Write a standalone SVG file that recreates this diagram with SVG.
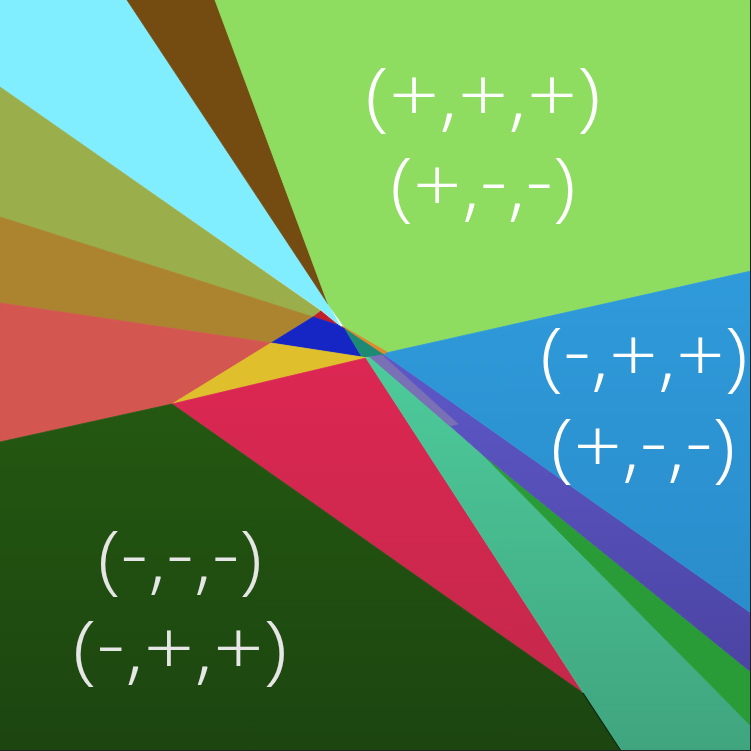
<svg xmlns="http://www.w3.org/2000/svg" width="751" height="751" viewBox="0 0 751 751">
<defs>
<style>
.lbl{font-family:"Open Sans","Liberation Sans",sans-serif;font-weight:300;font-size:76px;text-anchor:middle;fill:#ffffff}
.lbl2{fill:#e6e6e6}
polygon{stroke-width:0.8;stroke-linejoin:round}
</style>
<linearGradient id="gDark" x1="0" y1="0" x2="0" y2="1"><stop offset="0" stop-color="#245811"/><stop offset="1" stop-color="#1c4510"/></linearGradient>
<linearGradient id="gCrim" x1="0" y1="0" x2="0" y2="1"><stop offset="0" stop-color="#dc2753"/><stop offset="1" stop-color="#c5284a"/></linearGradient>
<linearGradient id="gTeal" x1="0" y1="0" x2="0" y2="1"><stop offset="0" stop-color="#4dcb9b"/><stop offset="1" stop-color="#40a57f"/></linearGradient>
<linearGradient id="gPurp" x1="0" y1="0" x2="0" y2="1"><stop offset="0" stop-color="#5e58c8"/><stop offset="1" stop-color="#4b44a3"/></linearGradient>
<linearGradient id="gBlue" x1="0" y1="0" x2="0" y2="1"><stop offset="0" stop-color="#2f9ada"/><stop offset="1" stop-color="#2a8dcb"/></linearGradient>
</defs>
<g id="regions">
<polygon id="cyan" fill="#80eeff" stroke="#80eeff" points="0,0 127,0 328,304 340,326 324,312 0,87"/>
<polygon id="brown" fill="#744c12" stroke="#744c12" points="127,0 215,0 328,304"/>
<polygon id="lightgreen" fill="#8edd61" stroke="#8edd61" points="215,0 751,0 751,271 386,353 345,328 328,304"/>
<polygon id="orange" fill="#e08a30" stroke="#e08a30" stroke-width="0.3" points="342,326 387,352 385,356 343,330"/>
<polygon id="olive" fill="#9aaf4b" stroke="#9aaf4b" points="0,87 321,311 313,317 0,217"/>
<polygon id="ochre" fill="#ac8430" stroke="#ac8430" points="0,217 313,317 271,343 0,303"/>
<polygon id="redsmall" fill="#c0202e" stroke="#c0202e" points="313,317 321,311 338,325"/>
<polygon id="bluecenter" fill="#1626c5" stroke="#1626c5" points="271,343 313,317 338,325 345,329 362,357"/>
<polygon id="darkteal" fill="#1d8b73" stroke="#1d8b73" points="345,329 384,355 372,357 362,357"/>
<polygon id="salmon" fill="#d35750" stroke="#d35750" points="0,303 271,343 172,404 0,442"/>
<polygon id="yellow" fill="#dfbf2b" stroke="#dfbf2b" points="271,343 362,357 366,358 172,404"/>
<polygon id="crimson" fill="url(#gCrim)" stroke="url(#gCrim)" points="172,404 366,358 583,693"/>
<polygon id="darkgreen" fill="url(#gDark)" stroke="url(#gDark)" points="0,442 172,404 583,693 621,751 0,751"/>
<polygon id="teal" fill="url(#gTeal)" stroke="url(#gTeal)" points="366,358 372,357 483,455 751,726 751,751 621,751"/>
<polygon id="green" fill="#2a9c37" stroke="#2a9c37" points="483,455 751,672 751,726"/>
<polygon id="purple" fill="url(#gPurp)" stroke="url(#gPurp)" points="372,357 385,355 751,613 751,672 483,455"/>
<polygon id="greyband" fill="#7a70b6" stroke="#7a70b6" stroke-width="0.3" points="370,357 382,355 458,424 450,426"/>
<polygon id="blueright" fill="url(#gBlue)" stroke="url(#gBlue)" points="386,353 751,271 751,613 385,355"/>
<line x1="583" y1="693" x2="621" y2="751" stroke="#0c200a" stroke-width="1.2"/>
<rect x="0" y="750" width="751" height="1" fill="#222"/>
<rect x="750" y="0" width="1" height="751" fill="#222"/>
</g>
<g id="labels">
<text class="lbl" x="483" y="122" textLength="236" lengthAdjust="spacingAndGlyphs">(+,+,+)</text>
<text class="lbl" x="483" y="212" textLength="186" lengthAdjust="spacingAndGlyphs">(+,<tspan dy="-5">-</tspan><tspan dy="5">,</tspan><tspan dy="-5">-</tspan><tspan dy="5">)</tspan></text>
<text class="lbl" x="644" y="382" textLength="208" lengthAdjust="spacingAndGlyphs">(<tspan dy="-5">-</tspan><tspan dy="5">,+,+)</tspan></text>
<text class="lbl" x="643" y="473" textLength="185" lengthAdjust="spacingAndGlyphs">(+,<tspan dy="-5">-</tspan><tspan dy="5">,</tspan><tspan dy="-5">-</tspan><tspan dy="5">)</tspan></text>
<text class="lbl lbl2" x="180" y="585" textLength="165" lengthAdjust="spacingAndGlyphs">(<tspan dy="-5">-</tspan><tspan dy="5">,</tspan><tspan dy="-5">-</tspan><tspan dy="5">,</tspan><tspan dy="-5">-</tspan><tspan dy="5">)</tspan></text>
<text class="lbl lbl2" x="180" y="675" textLength="215" lengthAdjust="spacingAndGlyphs">(<tspan dy="-5">-</tspan><tspan dy="5">,+,+)</tspan></text>
</g>
</svg>
